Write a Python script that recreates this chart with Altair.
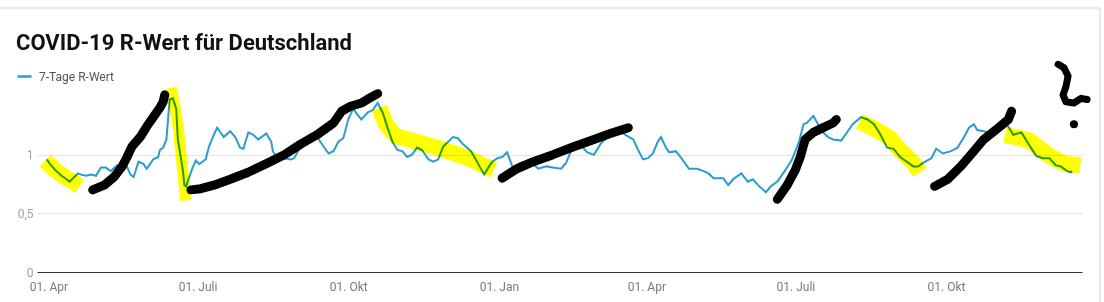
import json
import altair as alt
import pandas as pd

TITLE = "COVID-19 R-Wert für Deutschland"
SERIES = "7-Tage R-Wert"
BLUE = "#2b9ccd"

DATES = [
    "2020-03-31", "2020-04-02", "2020-04-05", "2020-04-09", "2020-04-12", "2020-04-14", "2020-04-16", "2020-04-19", "2020-04-21", "2020-04-24",
    "2020-04-27", "2020-04-30", "2020-05-03", "2020-05-06", "2020-05-09", "2020-05-13", "2020-05-18", "2020-05-21", "2020-05-23", "2020-05-26",
    "2020-05-29", "2020-05-31", "2020-06-04", "2020-06-07", "2020-06-08", "2020-06-10", "2020-06-12", "2020-06-13", "2020-06-14", "2020-06-16",
    "2020-06-18", "2020-06-19", "2020-06-22", "2020-06-23", "2020-06-24", "2020-06-26", "2020-06-28", "2020-06-30", "2020-07-02", "2020-07-04",
    "2020-07-06", "2020-07-08", "2020-07-11", "2020-07-13", "2020-07-17", "2020-07-21", "2020-07-24", "2020-07-27", "2020-07-29", "2020-08-01",
    "2020-08-04", "2020-08-07", "2020-08-09", "2020-08-12", "2020-08-15", "2020-08-16", "2020-08-19", "2020-08-23", "2020-08-27", "2020-08-29",
    "2020-09-02", "2020-09-07", "2020-09-12", "2020-09-16", "2020-09-19", "2020-09-22", "2020-09-25", "2020-09-28", "2020-10-01", "2020-10-04",
    "2020-10-09", "2020-10-13", "2020-10-16", "2020-10-19", "2020-10-22", "2020-10-25", "2020-10-28", "2020-10-31", "2020-11-03", "2020-11-06",
    "2020-11-09", "2020-11-12", "2020-11-15", "2020-11-19", "2020-11-22", "2020-11-25", "2020-11-28", "2020-12-04", "2020-12-07", "2020-12-10",
    "2020-12-15", "2020-12-19", "2020-12-23", "2020-12-26", "2020-12-28", "2020-12-31", "2021-01-03", "2021-01-06", "2021-01-10", "2021-01-14",
    "2021-01-19", "2021-01-22", "2021-01-25", "2021-01-30", "2021-02-03", "2021-02-08", "2021-02-11", "2021-02-14", "2021-02-18", "2021-02-20",
    "2021-02-24", "2021-02-28", "2021-03-04", "2021-03-08", "2021-03-12", "2021-03-15", "2021-03-19", "2021-03-24", "2021-03-27", "2021-03-30",
    "2021-04-02", "2021-04-05", "2021-04-08", "2021-04-10", "2021-04-13", "2021-04-15", "2021-04-19", "2021-04-23", "2021-04-27", "2021-05-02",
    "2021-05-06", "2021-05-09", "2021-05-12", "2021-05-15", "2021-05-18", "2021-05-21", "2021-05-24", "2021-05-29", "2021-06-02", "2021-06-05",
    "2021-06-09", "2021-06-13", "2021-06-16", "2021-06-20", "2021-06-25", "2021-06-29", "2021-07-03", "2021-07-06", "2021-07-08", "2021-07-12",
    "2021-07-14", "2021-07-17", "2021-07-21", "2021-07-24", "2021-07-29", "2021-08-02", "2021-08-05", "2021-08-10", "2021-08-14", "2021-08-18",
    "2021-08-22", "2021-08-26", "2021-08-30", "2021-09-03", "2021-09-08", "2021-09-11", "2021-09-14", "2021-09-17", "2021-09-22", "2021-09-25",
    "2021-09-29", "2021-10-04", "2021-10-08", "2021-10-12", "2021-10-15", "2021-10-18", "2021-10-20", "2021-10-24", "2021-10-27", "2021-10-31",
    "2021-11-04", "2021-11-08", "2021-11-11", "2021-11-16", "2021-11-20", "2021-11-25", "2021-11-29", "2021-12-03", "2021-12-07", "2021-12-10",
    "2021-12-14", "2021-12-16", "2021-12-17",
]

R_WERT = [
    0.96, 0.92, 0.87, 0.82, 0.79, 0.77, 0.80, 0.84, 0.83, 0.82,
    0.83, 0.82, 0.89, 0.89, 0.86, 0.91, 0.93, 0.83, 0.81, 0.94,
    0.92, 0.88, 0.96, 0.98, 1.04, 1.06, 1.13, 1.30, 1.47, 1.48,
    1.39, 1.13, 0.87, 0.74, 0.73, 0.81, 0.89, 0.95, 0.92, 0.94,
    0.96, 1.07, 1.17, 1.23, 1.15, 1.20, 1.15, 1.06, 1.05, 1.19,
    1.17, 1.13, 1.15, 1.18, 1.11, 1.03, 0.96, 0.97, 0.96, 0.97,
    1.07, 1.13, 1.15, 1.07, 1.01, 1.03, 1.11, 1.14, 1.30, 1.39,
    1.30, 1.36, 1.38, 1.44, 1.36, 1.23, 1.11, 1.04, 1.03, 0.98,
    1.00, 1.06, 1.04, 0.96, 0.94, 0.96, 1.07, 1.15, 1.14, 1.09,
    1.03, 0.93, 0.83, 0.90, 0.94, 0.97, 0.98, 1.02, 0.87, 0.93,
    0.94, 0.92, 0.88, 0.90, 0.89, 0.88, 0.93, 1.03, 1.07, 1.08,
    1.02, 1.00, 1.09, 1.15, 1.19, 1.21, 1.17, 1.13, 1.04, 0.96,
    0.97, 1.01, 1.11, 1.15, 1.06, 1.02, 1.03, 0.96, 0.88, 0.88,
    0.86, 0.84, 0.80, 0.80, 0.80, 0.74, 0.79, 0.84, 0.77, 0.79,
    0.73, 0.68, 0.73, 0.77, 0.87, 0.96, 1.10, 1.26, 1.27, 1.33,
    1.28, 1.20, 1.15, 1.13, 1.12, 1.20, 1.26, 1.32, 1.30, 1.26,
    1.17, 1.06, 1.05, 0.98, 0.93, 0.90, 0.90, 0.93, 0.97, 1.05,
    1.01, 1.03, 1.06, 1.15, 1.23, 1.26, 1.21, 1.20, 1.19, 1.21,
    1.25, 1.24, 1.17, 1.19, 1.10, 0.99, 0.97, 0.97, 0.91, 0.90,
    0.86, 0.85, 0.86,
]

X_TICKS = ["2020-04-01", "2020-07-01", "2020-10-01", "2021-01-01",
           "2021-04-01", "2021-07-01", "2021-10-01"]
MONTHS_DE = ["Jan", "Feb", "Mär", "Apr", "Mai", "Juni", "Juli",
             "Aug", "Sep", "Okt", "Nov", "Dez"]
Y_TICKS = [0, 0.5, 1]
X_DOMAIN = ["2020-03-25", "2021-12-23"]
Y_DOMAIN = [0, 1.5]

# hand-drawn highlighter marks (yellow)
HL1_DATES = ["2020-03-30", "2020-04-05", "2020-04-11", "2020-04-17", "2020-04-20"]
HL1_R = [0.95, 0.87, 0.81, 0.76, 0.73]
HL2_DATES = ["2020-06-15 02:00", "2020-06-16 22:00", "2020-06-19 10:00",
             "2020-06-21 05:00", "2020-06-22 12:00", "2020-06-23 17:00"]
HL2_R = [1.57, 1.43, 1.21, 0.96, 0.79, 0.61]
HL3_DATES = ["2020-10-20", "2020-10-24", "2020-10-30", "2020-11-14",
             "2020-11-29", "2020-12-15", "2020-12-24", "2020-12-29"]
HL3_R = [1.40, 1.26, 1.16, 1.10, 1.04, 0.96, 0.90, 0.87]
HL4_DATES = ["2021-08-09", "2021-08-17", "2021-08-27", "2021-09-03", "2021-09-11", "2021-09-15"]
HL4_R = [1.28, 1.23, 1.15, 1.04, 0.93, 0.85]
HL5_DATES = ["2021-11-06", "2021-11-21", "2021-12-03", "2021-12-13", "2021-12-22"]
HL5_R = [1.17, 1.12, 0.99, 0.92, 0.91]

# hand-drawn black pen strokes
PEN1_DATES = ["2020-04-28", "2020-05-05", "2020-05-11", "2020-05-16", "2020-05-19", "2020-05-22",
              "2020-05-27", "2020-05-31", "2020-06-04", "2020-06-08", "2020-06-10", "2020-06-11"]
PEN1_R = [0.70, 0.74, 0.81, 0.90, 0.98, 1.07, 1.15, 1.24, 1.32, 1.40, 1.45, 1.51]
PEN2_DATES = ["2020-06-27", "2020-07-03", "2020-07-11", "2020-07-21", "2020-08-01", "2020-08-13",
              "2020-08-23", "2020-09-02", "2020-09-12", "2020-09-22", "2020-09-27", "2020-10-02",
              "2020-10-09", "2020-10-15", "2020-10-19"]
PEN2_R = [0.70, 0.71, 0.74, 0.79, 0.85, 0.93, 1.00, 1.09, 1.17, 1.27, 1.37, 1.41, 1.44, 1.49, 1.52]
PEN3_DATES = ["2021-01-03", "2021-01-12", "2021-01-22", "2021-02-03", "2021-02-16",
              "2021-02-28", "2021-03-10", "2021-03-21"]
PEN3_R = [0.80, 0.88, 0.94, 1.00, 1.07, 1.13, 1.18, 1.23]
PEN4_DATES = ["2021-06-20", "2021-06-26", "2021-07-01", "2021-07-04", "2021-07-07",
              "2021-07-12", "2021-07-18", "2021-07-24", "2021-07-26"]
PEN4_R = [0.62, 0.74, 0.87, 0.98, 1.13, 1.19, 1.23, 1.27, 1.30]
PEN5_DATES = ["2021-09-24", "2021-10-02", "2021-10-10", "2021-10-18", "2021-10-24",
              "2021-11-02", "2021-11-08", "2021-11-10"]
PEN5_R = [0.73, 0.79, 0.90, 1.03, 1.13, 1.23, 1.30, 1.37]
QMARK_DATES = ["2021-12-08 10:00", "2021-12-12 00:00", "2021-12-14 12:00", "2021-12-13 05:00",
               "2021-12-11 10:00", "2021-12-13 05:00", "2021-12-18 02:00", "2021-12-22 10:00",
               "2021-12-26 02:00"]
QMARK_R = [1.77, 1.74, 1.67, 1.58, 1.51, 1.45, 1.44, 1.48, 1.47]
QDOT_DATES = ["2021-12-18 02:00"]
QDOT_R = [1.26]


def ms(s):
    return int(pd.Timestamp(s, tz="UTC").value // 1_000_000)


def strokes_df(*strokes):
    rows = []
    for name, dates, vals in strokes:
        for i, (d, v) in enumerate(zip(dates, vals)):
            rows.append({"date": ms(d), "r": v, "stroke": name, "idx": i})
    return pd.DataFrame(rows)


main_df = pd.DataFrame({"date": [ms(d) for d in DATES], "r": R_WERT, "serie": SERIES})
hl_df = strokes_df(("h1", HL1_DATES, HL1_R), ("h3", HL3_DATES, HL3_R),
                   ("h4", HL4_DATES, HL4_R), ("h5", HL5_DATES, HL5_R))
hl2_df = strokes_df(("h2", HL2_DATES, HL2_R))
pen_df = strokes_df(("p1", PEN1_DATES, PEN1_R), ("p2", PEN2_DATES, PEN2_R),
                    ("p3", PEN3_DATES, PEN3_R), ("p4", PEN4_DATES, PEN4_R),
                    ("p5", PEN5_DATES, PEN5_R))
q_df = strokes_df(("q", QMARK_DATES, QMARK_R))
dot_df = strokes_df(("d", QDOT_DATES, QDOT_R))

month_expr = "'01. ' + " + json.dumps(MONTHS_DE, ensure_ascii=False) + "[utcmonth(datum.value)]"

X_ENC = alt.X(
    "date:T",
    scale=alt.Scale(type="utc", domain=[ms(d) for d in X_DOMAIN], nice=False),
    axis=alt.Axis(values=[ms(d) for d in X_TICKS], labelExpr=month_expr, title=None,
                  grid=False, ticks=False, tickSize=0, domain=True, domainColor="#333333",
                  domainWidth=1, labelColor="#7a7a7a", labelFont="Roboto", labelFontSize=12,
                  labelPadding=9, labelFlush=False, labelOverlap=False, zindex=1),
)
Y_ENC = alt.Y(
    "r:Q",
    scale=alt.Scale(domain=Y_DOMAIN, nice=False, zero=True),
    axis=alt.Axis(values=Y_TICKS, labelExpr="replace(format(datum.value, '.1~f'), '.', ',')",
                  title=None, domain=False, ticks=False, tickSize=0, grid=True,
                  gridColor="#e4e4e4", gridWidth=1, labelColor="#a0a0a0", labelFont="Roboto",
                  labelFontSize=12, labelPadding=4),
)

frame_df = pd.DataFrame({"k": [0]})
card_top = alt.Chart(frame_df).mark_rule(color="#e2e2e2", strokeWidth=1.5).encode(
    x=alt.value(-37), x2=alt.value(1063), y=alt.value(-88))
card_right = alt.Chart(frame_df).mark_rule(color="#e2e2e2", strokeWidth=1.5).encode(
    x=alt.value(1063), y=alt.value(-88), y2=alt.value(206))
title_mark = alt.Chart(frame_df).mark_text(
    align="left", baseline="alphabetic", font="Roboto", fontSize=22, fontWeight="bold",
    color="#111111").encode(x=alt.value(-21), y=alt.value(-46), text=alt.value(TITLE))

line = alt.Chart(main_df).mark_line(strokeWidth=2).encode(
    x=X_ENC, y=Y_ENC,
    color=alt.Color("serie:N", scale=alt.Scale(domain=[SERIES], range=[BLUE]),
                    legend=alt.Legend(title=None, orient="none", legendX=-21, legendY=-28,
                                      symbolType="stroke", symbolSize=196, symbolStrokeWidth=2.5,
                                      labelFont="Roboto", labelFontSize=12, labelColor="#555555",
                                      labelOffset=6)),
)

highlight = alt.Chart(hl_df).mark_line(color="#ffff00", strokeWidth=16, strokeCap="butt",
                                       strokeJoin="round", blend="multiply").encode(
    x=X_ENC, y=Y_ENC, detail="stroke:N", order="idx:Q")
highlight2 = alt.Chart(hl2_df).mark_line(color="#ffff00", strokeWidth=11, strokeCap="butt",
                                         strokeJoin="round", blend="multiply").encode(
    x=X_ENC, y=Y_ENC, detail="stroke:N", order="idx:Q")
pen = alt.Chart(pen_df).mark_line(color="#000000", strokeWidth=9, strokeCap="round",
                                  strokeJoin="round").encode(
    x=X_ENC, y=Y_ENC, detail="stroke:N", order="idx:Q")
qmark = alt.Chart(q_df).mark_line(color="#000000", strokeWidth=7, strokeCap="round",
                                  strokeJoin="round").encode(
    x=X_ENC, y=Y_ENC, order="idx:Q")
qdot = alt.Chart(dot_df).mark_circle(color="#000000", size=64, opacity=1).encode(
    x=X_ENC, y=Y_ENC)

chart = alt.layer(card_top, card_right, title_mark, line, highlight, highlight2, pen, qmark,
                  qdot).properties(
    width=1045,
    height=176,
    padding={"left": 37, "top": 96, "right": 22, "bottom": 30},
    autosize=alt.AutoSizeParams(type="none"),
    background="white",
).configure_view(stroke=None)

chart.save("out.html", embed_options={"renderer": "svg", "actions": False})
